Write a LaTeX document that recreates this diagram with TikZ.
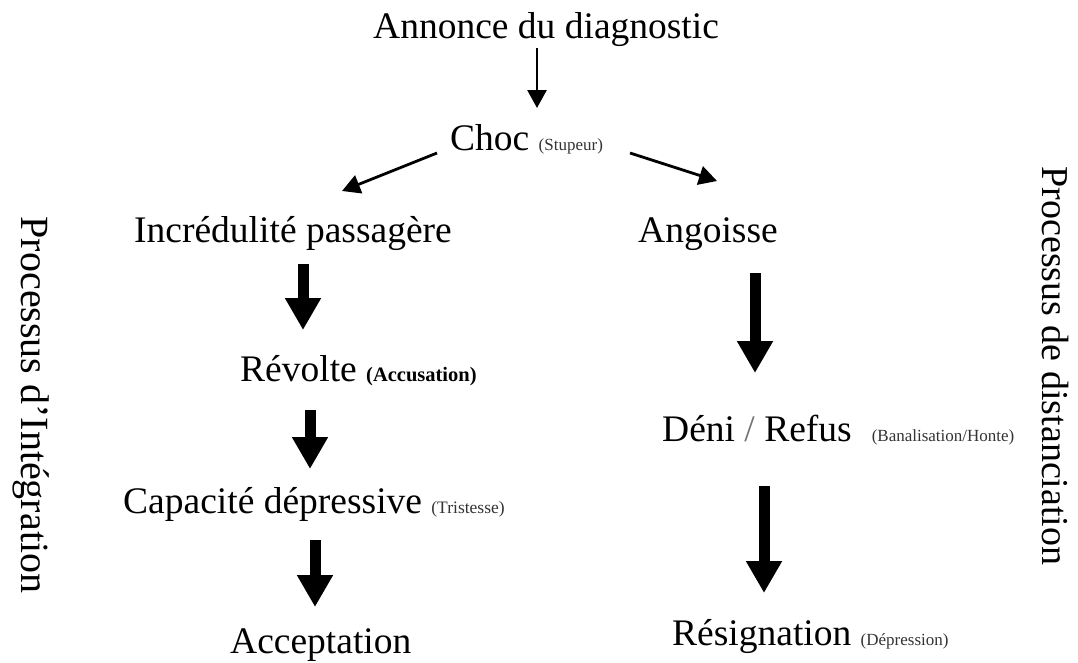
\documentclass[tikz,border=0pt]{standalone}
\usepackage{fontspec}
\setmainfont{Liberation Serif}
\usetikzlibrary{arrows.meta}
\begin{document}
\begin{tikzpicture}[x=1pt,y=-1pt,
  lbl/.style={inner sep=0pt,anchor=base west,font=\fontsize{37.5}{40}\selectfont},
  side/.style={inner sep=0pt,rotate=-90,font=\fontsize{38}{40}\selectfont},
  thinarrow/.style={line width=2.8pt,-{Triangle[width=19pt,length=18pt]}},
  thickarrow/.style={line width=11pt,-{Triangle[width=34pt,length=32pt]}}]
\newcommand{\note}[1]{{\fontsize{17}{18}\selectfont\color{black!80}#1}}
\useasboundingbox (0,0) rectangle (1078,662);

% stages
\node[lbl] (annonce) at (373,38) {Annonce du diagnostic};
\node[lbl] (choc) at (450,150) {Choc \note{(Stupeur)}};
\node[lbl] (incred) at (134,242) {Incrédulité passagère};
\node[lbl] (angoisse) at (638,242) {Angoisse};
\node[lbl] (revolte) at (240,381) {Révolte {\fontsize{20.5}{21}\selectfont\bfseries (Accusation)}};
\node[lbl] (capacite) at (123,513) {Capacité dépressive {\fontsize{17.5}{18}\selectfont\color{black!80}(Tristesse)}};
\node[lbl] (acceptation) at (230,653) {Acceptation};
\node[lbl] (deni) at (662,441) {Déni {\color{black!55}/} Refus\hspace{20pt}\note{(Banalisation/Honte)}};
\node[lbl] (resignation) at (672,645) {Résignation \note{(Dépression)}};

% side captions
\node[side,font=\fontsize{40}{42}\selectfont] (integration) at (31,405) {Processus d'Intégration};
\node[side] (distanciation) at (1055,366) {Processus de distanciation};

% arrow end points
\coordinate (a0) at (537,48);  \coordinate (a1) at (537,108);
\coordinate (b0) at (437,153); \coordinate (b1) at (342,191);
\coordinate (c0) at (630,153); \coordinate (c1) at (717,181);
\coordinate (l1a) at (303,264); \coordinate (l1b) at (303,330);
\coordinate (l2a) at (310,410); \coordinate (l2b) at (310,469);
\coordinate (l3a) at (315,540); \coordinate (l3b) at (315,607);
\coordinate (r1a) at (755,273); \coordinate (r1b) at (755,373);
\coordinate (r2a) at (764,486); \coordinate (r2b) at (764,593);

% connectors
\draw[thinarrow] (a0) -- (a1);
\draw[thinarrow] (b0) -- (b1);
\draw[thinarrow] (c0) -- (c1);
\draw[thickarrow] (l1a) -- (l1b);
\draw[thickarrow] (l2a) -- (l2b);
\draw[thickarrow] (l3a) -- (l3b);
\draw[thickarrow] (r1a) -- (r1b);
\draw[thickarrow] (r2a) -- (r2b);
\end{tikzpicture}
\end{document}
